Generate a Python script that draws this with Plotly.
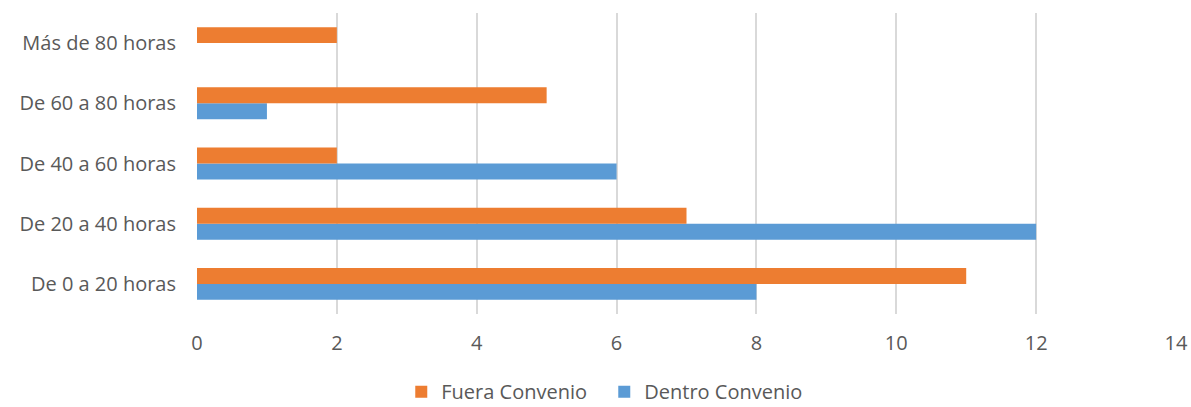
import plotly.graph_objects as go

categories = ["De 0 a 20 horas", "De 20 a 40 horas", "De 40 a 60 horas", "De 60 a 80 horas", "Más de 80 horas"]
fuera = [11, 7, 2, 5, 2]
dentro = [8, 12, 6, 1, 0]
x_ticks = [0, 2, 4, 6, 8, 10, 12, 14]

fig = go.Figure()
fig.add_trace(go.Bar(y=categories, x=dentro, orientation="h", name="Dentro Convenio",
                     marker=dict(color="#5B9BD5", line=dict(width=0))))
fig.add_trace(go.Bar(y=categories, x=fuera, orientation="h", name="Fuera Convenio",
                     marker=dict(color="#ED7D31", line=dict(width=0))))

font_family = "Open Sans, Liberation Sans, sans-serif"
fig.update_layout(
    width=1191, height=407,
    margin=dict(l=197, r=15, t=13, b=93, autoexpand=False),
    barmode="group", bargap=0.47, bargroupgap=0,
    plot_bgcolor="white", paper_bgcolor="white",
    font=dict(family=font_family, size=20, color="#595959"),
    xaxis=dict(range=[0, 14], tickvals=x_ticks, showgrid=True, gridcolor="#D9D9D9", gridwidth=1.5,
               zeroline=False, showline=False, ticks="", tickfont=dict(size=20), ticklabelstandoff=15,
               automargin=False),
    yaxis=dict(showgrid=False, zeroline=False, showline=False, ticks="",
               tickfont=dict(size=20), ticklabelstandoff=20, automargin=False),
    legend=dict(orientation="h", x=0.416, xanchor="center", y=-0.258, yanchor="middle",
                traceorder="reversed", font=dict(size=20), itemwidth=30, entrywidth=158,
                tracegroupgap=0, borderwidth=0),
    showlegend=True,
)
fig.write_html("out.html", config={"displayModeBar": False},
               post_script="document.body.style.margin='0';document.body.style.overflow='hidden';")
